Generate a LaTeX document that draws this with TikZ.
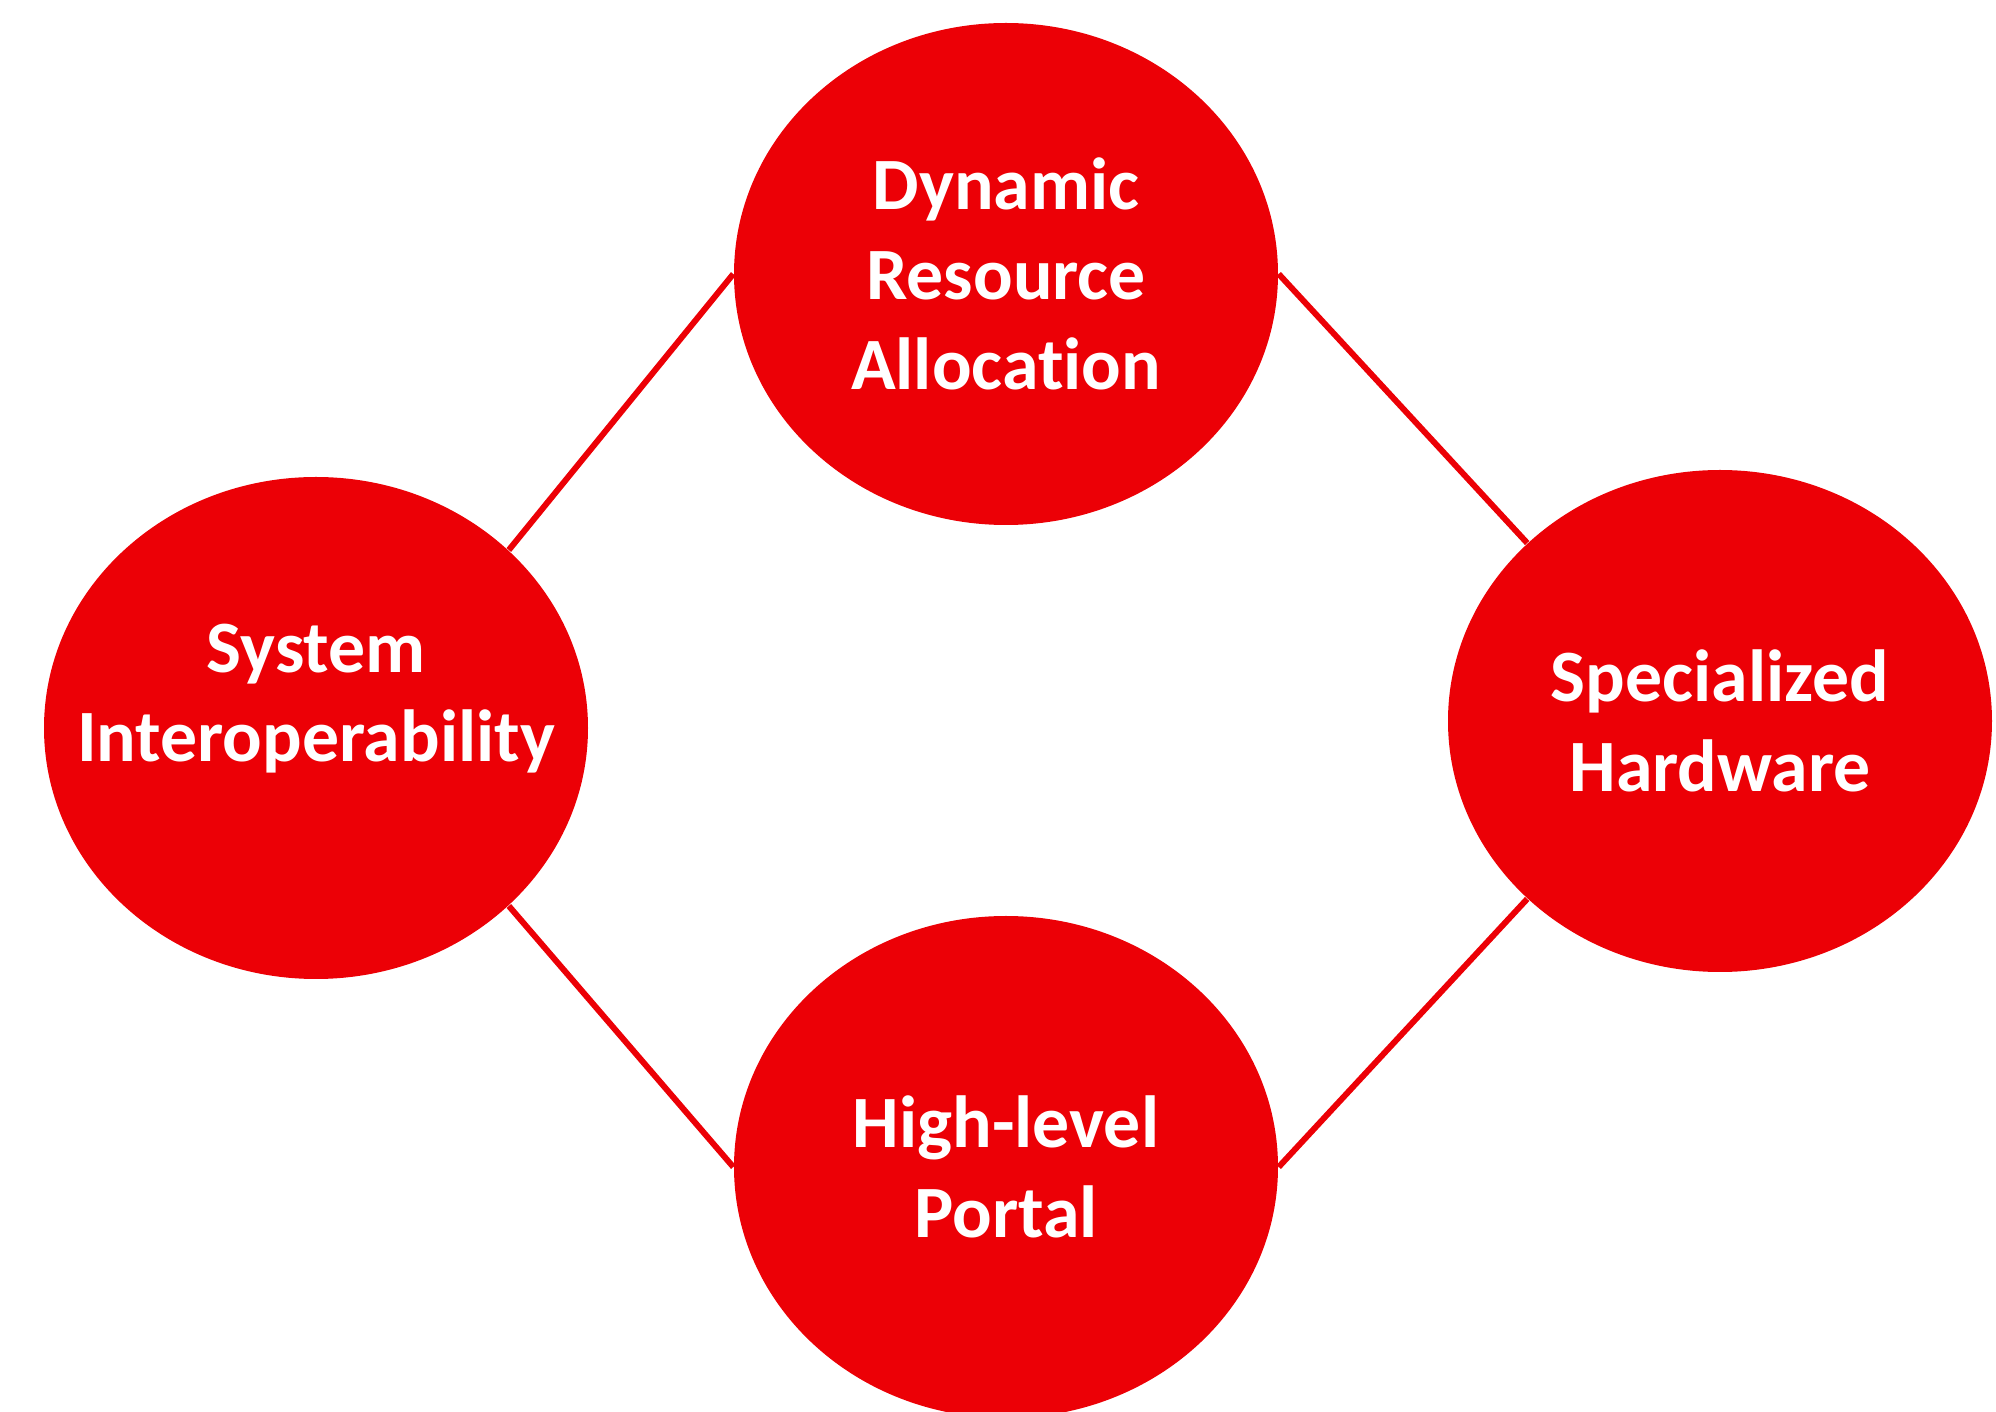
\documentclass[tikz,border=0pt]{standalone}
\usepackage{fontspec}
\setmainfont[Ligatures=NoCommon]{Carlito}
\usetikzlibrary{shapes.geometric}
\tikzset{
  topic/.style={ellipse, fill=topiccol, draw=none, inner sep=0pt,
    inner xsep=-1cm, minimum width=5.44cm, minimum height=5.02cm,
    align=center, text=white,
    font=\fontsize{21}{25.5}\selectfont\bfseries},
  link/.style={draw=topiccol, line width=1.7pt}
}

\begin{document}
\begin{tikzpicture}
  % Fixed frame.
  \path[use as bounding box] (0,0) rectangle (19.96,-14.12);
  \clip (0,0) rectangle (19.96,-14.12);

  \definecolor{topiccol}{RGB}{236,0,6}

  % Topics.
  \node[topic] (dyn) at (10.06,-2.74) {Dynamic\\Resource\\Allocation};
  \node[topic, text depth=20pt] (sys) at (3.16,-7.28) {System\\Interoperability};
  \node[topic] (hw) at (17.20,-7.21) {Specialized\\Hardware};
  \node[topic] (portal) at (10.06,-11.67) {High-level\\Portal};

  % Links between topics.
  \draw[link] (dyn.west) -- (sys.north east);
  \draw[link] (dyn.east) -- (hw.north west);
  \draw[link] (sys.south east) -- (portal.west);
  \draw[link] (hw.south west) -- (portal.east);
\end{tikzpicture}
\end{document}
